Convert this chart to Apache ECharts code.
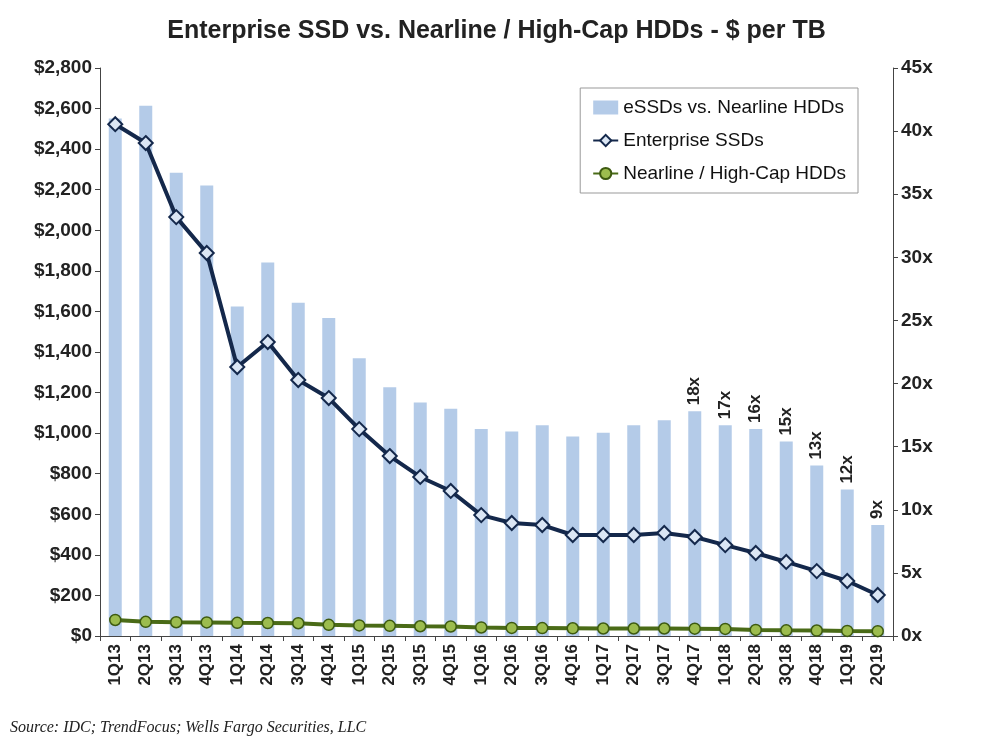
<!DOCTYPE html>
<html>
<head>
<meta charset="UTF-8">
<script src="https://cdn.jsdelivr.net/npm/echarts@6/dist/echarts.min.js"></script>
<style>body{margin:0;background:#fff}</style>
</head>
<body>
<div id="main" style="width:993px;height:754px;"></div>
<script>
var categories = ['1Q13','2Q13','3Q13','4Q13','1Q14','2Q14','3Q14','4Q14','1Q15','2Q15','3Q15','4Q15','1Q16','2Q16','3Q16','4Q16','1Q17','2Q17','3Q17','4Q17','1Q18','2Q18','3Q18','4Q18','1Q19','2Q19'];
var multiples = [41,42,36.7,35.7,26.1,29.6,26.4,25.2,22,19.7,18.5,18,16.4,16.2,16.7,15.8,16.1,16.7,17.1,17.8,16.7,16.4,15.4,13.5,11.6,8.8];
var multipleLabels = ['','','','','','','','','','','','','','','','','','','','18x','17x','16x','15x','13x','12x','9x'];
var ssd = [2523,2430,2065,1888,1326,1449,1262,1173,1020,887,784,715,596,557,547,498,498,498,508,488,448,409,365,320,271,202];
var hdd = [79,70,68,67,65,64,63,55,52,50,48,47,42,40,39,38,37,37,37,36,35,30,28,27,25,24];

var font = 'Liberation Sans Narrow, Liberation Sans';
var chart = echarts.init(document.getElementById('main'));
chart.setOption({
  textStyle: {fontFamily: font},
  title: {
    text: 'Enterprise SSD vs. Nearline / High-Cap HDDs - $ per TB',
    left: 'center', top: 14,
    textStyle: {fontFamily: font, fontSize: 25, fontWeight: 'bold', color: '#222'}
  },
  graphic: [{
    type: 'text', left: 10, top: 720,
    style: {text: 'Source: IDC; TrendFocus; Wells Fargo Securities, LLC', font: 'italic 16px Liberation Sans Narrow', fill: '#222'}
  }],
  legend: {
    orient: 'vertical', right: 135, top: 88,
    borderColor: '#999', borderWidth: 1, padding: [10, 12], itemGap: 14,
    backgroundColor: '#fff',
    textStyle: {fontSize: 19, color: '#111', fontFamily: font},
    data: [
      {name: 'eSSDs vs. Nearline HDDs', icon: 'rect', itemStyle: {color: '#b4cbe8'}},
      {name: 'Enterprise SSDs'},
      {name: 'Nearline / High-Cap HDDs'}
    ]
  },
  grid: {left: 100, right: 100, top: 68, bottom: 118},
  xAxis: {
    type: 'category', data: categories,
    axisLine: {lineStyle: {color: '#444'}},
    axisTick: {show: true, lineStyle: {color: '#444'}},
    axisLabel: {rotate: 90, fontSize: 17, fontWeight: 'bold', color: '#222', interval: 0}
  },
  yAxis: [{
    type: 'value', min: 0, max: 2800, interval: 200,
    axisLabel: {fontSize: 19, fontWeight: 'bold', color: '#222', formatter: function (v) { return '$' + v.toLocaleString('en-US'); }},
    axisLine: {show: true, lineStyle: {color: '#444'}},
    axisTick: {show: true},
    splitLine: {show: false}
  }, {
    type: 'value', min: 0, max: 45, interval: 5,
    axisLabel: {fontSize: 19, fontWeight: 'bold', color: '#222', formatter: '{value}x'},
    axisLine: {show: true, lineStyle: {color: '#444'}},
    axisTick: {show: true},
    splitLine: {show: false}
  }],
  series: [{
    name: 'eSSDs vs. Nearline HDDs', type: 'bar', yAxisIndex: 1, barWidth: 13,
    itemStyle: {color: '#b4cbe8'},
    data: multiples,
    label: {
      show: true, position: 'top', rotate: 90, align: 'left', verticalAlign: 'middle', distance: 6,
      fontSize: 17, fontWeight: 'bold', color: '#222',
      formatter: function (p) { return multipleLabels[p.dataIndex]; }
    }
  }, {
    name: 'Enterprise SSDs', type: 'line', data: ssd,
    symbol: 'diamond', symbolSize: 14,
    lineStyle: {color: '#14284b', width: 4},
    itemStyle: {color: '#dbe6f4', borderColor: '#14284b', borderWidth: 2}
  }, {
    name: 'Nearline / High-Cap HDDs', type: 'line', data: hdd,
    symbol: 'circle', symbolSize: 11,
    lineStyle: {color: '#4a6b17', width: 4},
    itemStyle: {color: '#9cbc4e', borderColor: '#3d5a10', borderWidth: 1.5}
  }]
});
</script>
</body>
</html>
